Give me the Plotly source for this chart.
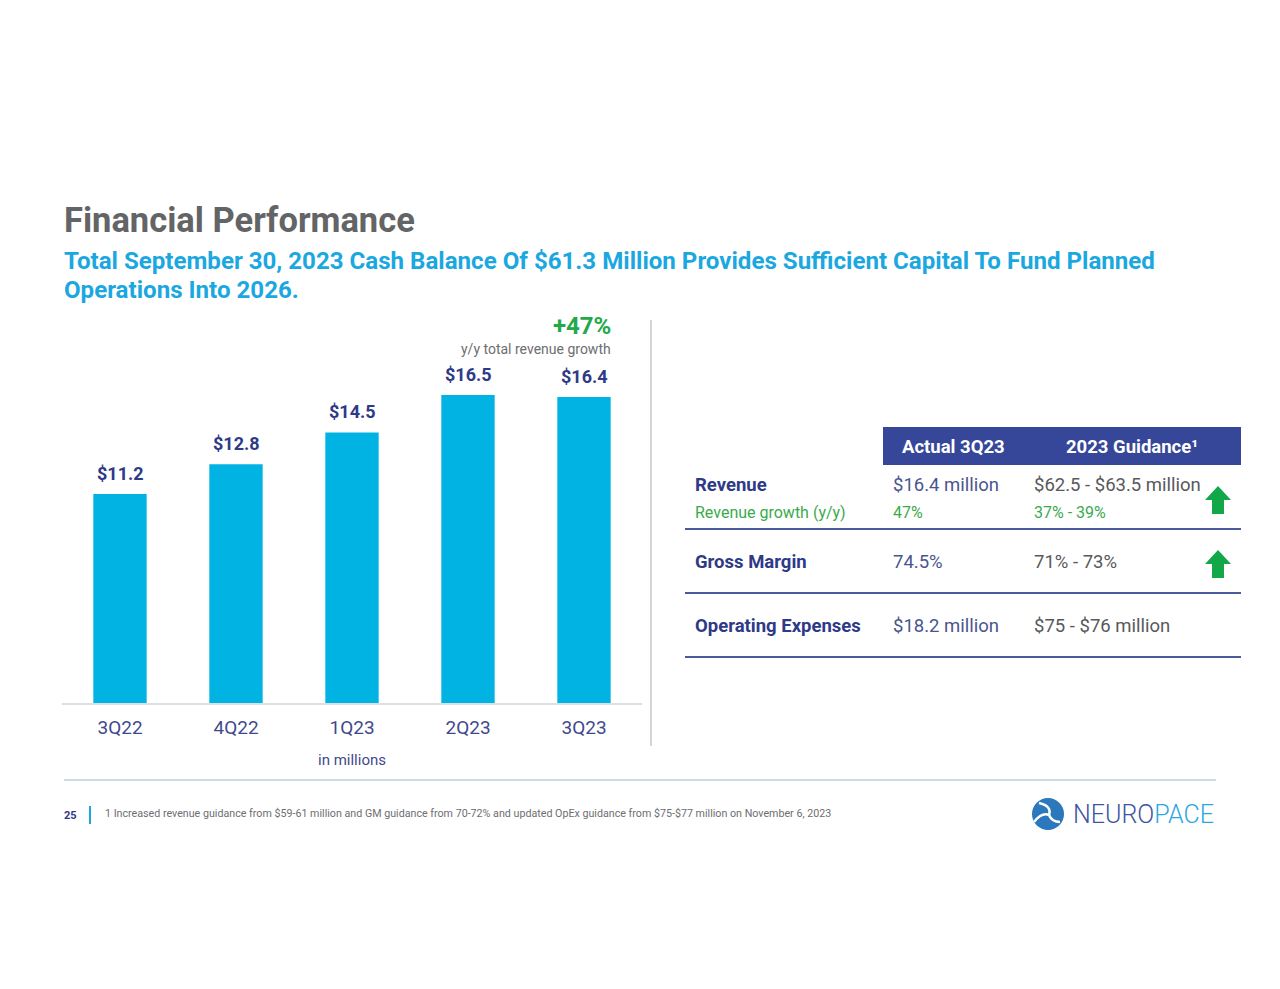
import plotly.graph_objects as go

# bar data, in millions
quarters = ["3Q22", "4Q22", "1Q23", "2Q23", "3Q23"]
revenue = [11.2, 12.8, 14.5, 16.5, 16.4]
bar_labels = ["$11.2", "$12.8", "$14.5", "$16.5", "$16.4"]

# table data
table_header = ["Actual 3Q23", "2023 Guidance¹"]
row_names = ["Revenue", "Gross Margin", "Operating Expenses"]
row_actual = ["$16.4 million", "74.5%", "$18.2 million"]
row_guidance = ["$62.5 - $63.5 million", "71% - 73%", "$75 - $76 million"]
row_raised = [True, True, False]
growth_label = "Revenue growth (y/y)"
growth_actual = "47%"
growth_guidance = "37% - 39%"

W, H = 1280, 989
OFF = 8  # page margin around the figure
FONT = "Roboto"
NAVY = "#2e3a87"
BAR = "#00b3e3"
GREEN = "#22a94a"


def px(x):
    return (x - OFF) / W


def py(y):
    return 1 - (y - OFF) / H


fig = go.Figure()
fig.add_trace(go.Bar(
    x=quarters, y=revenue, marker_color=BAR, marker_line_width=0,
    hoverinfo="x+y", showlegend=False
))

ann = []
shapes = []


def text(x, y, s, size, color, bold=False, xanchor="left", yanchor="middle"):
    shift = {"left": -2, "right": 2}.get(xanchor, 0)
    ann.append(dict(
        x=px(x), y=py(y), xref="paper", yref="paper", text=f"<b>{s}</b>" if bold else s,
        showarrow=False, xanchor=xanchor, yanchor=yanchor, xshift=shift,
        font=dict(family=FONT, size=size, color=color)
    ))


def line(x0, y0, x1, y1, color, width):
    shapes.append(dict(type="line", xref="paper", yref="paper",
                       x0=px(x0), y0=py(y0), x1=px(x1), y1=py(y1),
                       line=dict(color=color, width=width)))


# bar value labels
for q, v, lab in zip(quarters, revenue, bar_labels):
    ann.append(dict(x=q, y=v, xref="x", yref="y", text=f"<b>{lab}</b>", showarrow=False,
                    yanchor="bottom", yshift=8, font=dict(family=FONT, size=18, color=NAVY)))

# titles
text(64, 220, "Financial Performance", 34.5, "#636466", bold=True)
text(64, 261, "Total September 30, 2023 Cash Balance Of $61.3 Million Provides Sufficient Capital To Fund Planned",
     24.1, "#1ba7df", bold=True)
text(64, 290, "Operations Into 2026.", 24.1, "#1ba7df", bold=True)

text(611, 326, "+47%", 24, GREEN, bold=True, xanchor="right")
text(611, 349, "y/y total revenue growth", 14, "#6d6e71", xanchor="right")
text(352, 760, "in millions", 15, "#3f4a8c", xanchor="center")

# divider
line(651, 320, 651, 746, "#c8c8c8", 1.5)

# table header
shapes.append(dict(type="rect", xref="paper", yref="paper", x0=px(883), x1=px(1241),
                   y0=py(427), y1=py(465), fillcolor="#36479a", line_width=0))
text(953, 447, table_header[0], 18.5, "white", bold=True, xanchor="center")
text(1132, 447, table_header[1], 18.5, "white", bold=True, xanchor="center")

row_y = [485, 562, 626]
line_y = [529, 593, 657]
for i, name in enumerate(row_names):
    text(695, row_y[i], name, 18.5, NAVY, bold=True)
    text(893, row_y[i], row_actual[i], 18.5, "#4a5590")
    text(1034, row_y[i], row_guidance[i], 18.5, "#58595b")
    line(685, line_y[i], 1241, line_y[i], "#4b5a9b", 2)
    if row_raised[i]:
        cx = 1218
        top = row_y[i] + 1 if i == 0 else row_y[i] - 12
        pts = [(cx, top), (cx + 13, top + 14), (cx + 6, top + 14), (cx + 6, top + 28),
               (cx - 6, top + 28), (cx - 6, top + 14), (cx - 13, top + 14)]
        path = "M " + " L ".join(f"{px(a):.5f},{py(b):.5f}" for a, b in pts) + " Z"
        shapes.append(dict(type="path", xref="paper", yref="paper", path=path,
                           fillcolor="#12a84a", line_width=0))

text(695, 513, growth_label, 16, "#3aaa4e")
text(893, 513, growth_actual, 16, "#3aaa4e")
text(1034, 513, growth_guidance, 16, "#3aaa4e")

# footer
line(64, 780, 1216, 780, "#b9d3e3", 1.5)
text(64, 815, "25", 11, NAVY, bold=True)
line(90, 806, 90, 824, "#1ba7df", 2)
text(105, 813, "1 Increased revenue guidance from $59-61 million and GM guidance from 70-72% and updated OpEx "
     "guidance from $75-$77 million on November 6, 2023", 10.7, "#6d6e71")

# logo
shapes.append(dict(type="circle", xref="paper", yref="paper", x0=px(1032), x1=px(1064),
                   y0=py(798), y1=py(830), fillcolor="#2b78bd", line_width=0))
for arm in [((1039, 803), (1052, 806), (1049, 815)),
            ((1034, 822), (1042, 812), (1049, 815)),
            ((1060, 822), (1052, 822), (1049, 815))]:
    (x0, y0), (x1, y1), (x2, y2) = arm
    shapes.append(dict(type="path", xref="paper", yref="paper",
                       path=f"M {px(x0):.5f},{py(y0):.5f} Q {px(x1):.5f},{py(y1):.5f} {px(x2):.5f},{py(y2):.5f}",
                       line=dict(color="white", width=2.5)))
ann.append(dict(x=px(1073), y=py(814), xref="paper", yref="paper", showarrow=False,
                xanchor="left", yanchor="middle", xshift=-2,
                text="<span style='color:#3b55a2'>NEURO</span><span style='color:#2aa8e0'>PACE</span>",
                font=dict(family=FONT, size=25, weight=300)))

fig.update_layout(
    width=W, height=H, margin=dict(l=0, r=0, t=0, b=0),
    paper_bgcolor="white", plot_bgcolor="white",
    bargap=0.54, annotations=ann, shapes=shapes,
    xaxis=dict(domain=[px(62), px(642)], showgrid=False, showline=True, linecolor="#dde1e6",
               linewidth=1.5, ticks="", ticklabelstandoff=6,
               tickfont=dict(family=FONT, size=19, color="#3f4a8c")),
    yaxis=dict(domain=[py(703), py(320)], range=[0, 383 / 18.66], visible=False),
)

fig.write_html("out.html")
